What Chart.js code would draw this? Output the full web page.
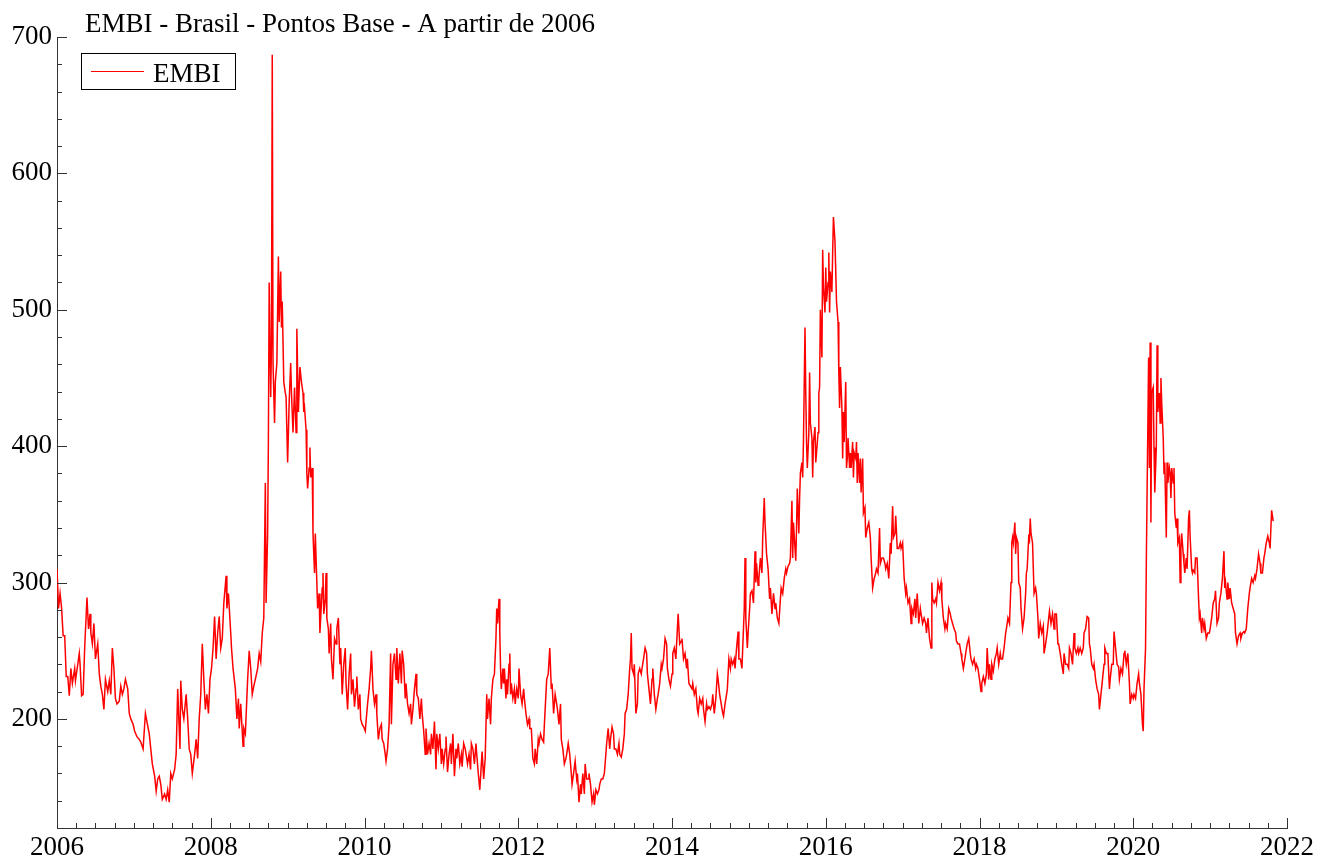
<!DOCTYPE html>
<html>
<head>
<meta charset="utf-8">
<script src="https://cdn.jsdelivr.net/npm/chart.js@4.4.0/dist/chart.umd.min.js"></script>
<style>
  html, body { margin: 0; padding: 0; background: #fff; }
  #wrap { width: 1320px; height: 861px; }
</style>
</head>
<body>
<div id="wrap"><canvas id="embiChart" width="1320" height="861"></canvas></div>
<script>
// --- Data ---
const chartTitle = 'EMBI - Brasil - Pontos Base - A partir de 2006';
const seriesLabel = 'EMBI';

const dates = [
  2006.00, 2006.02, 2006.04, 2006.06, 2006.08, 2006.10, 2006.12, 2006.14, 2006.16, 2006.18, 2006.20, 2006.23,
  2006.24, 2006.27, 2006.29, 2006.30, 2006.32, 2006.34, 2006.36, 2006.39, 2006.41, 2006.43, 2006.44, 2006.46,
  2006.48, 2006.50, 2006.53, 2006.55, 2006.57, 2006.59, 2006.61, 2006.63, 2006.66, 2006.68, 2006.70, 2006.72,
  2006.74, 2006.76, 2006.78, 2006.81, 2006.83, 2006.85, 2006.87, 2006.89, 2006.92, 2006.94, 2006.96, 2006.99,
  2007.01, 2007.04, 2007.07, 2007.09, 2007.12, 2007.15, 2007.17, 2007.20, 2007.22, 2007.24, 2007.27, 2007.29,
  2007.31, 2007.33, 2007.35, 2007.37, 2007.40, 2007.42, 2007.44, 2007.46, 2007.48, 2007.50, 2007.53, 2007.55,
  2007.57, 2007.58, 2007.60, 2007.61, 2007.63, 2007.65, 2007.68, 2007.70, 2007.72, 2007.74, 2007.76, 2007.79,
  2007.81, 2007.83, 2007.85, 2007.87, 2007.89, 2007.91, 2007.93, 2007.95, 2007.97, 2007.99,
  2008.01, 2008.03, 2008.05, 2008.07, 2008.09, 2008.11, 2008.13, 2008.15, 2008.17, 2008.20, 2008.21, 2008.23,
  2008.26, 2008.27, 2008.29, 2008.32, 2008.34, 2008.36, 2008.37, 2008.39, 2008.42, 2008.43, 2008.45, 2008.48,
  2008.50, 2008.52, 2008.54, 2008.56, 2008.58, 2008.61, 2008.63, 2008.65, 2008.67, 2008.69, 2008.71, 2008.72,
  2008.74, 2008.75, 2008.76, 2008.78, 2008.79, 2008.80, 2008.81, 2008.83, 2008.84, 2008.86, 2008.88, 2008.89,
  2008.91, 2008.92, 2008.93, 2008.95, 2008.97, 2008.98,
  2009.00, 2009.02, 2009.04, 2009.05, 2009.07, 2009.09, 2009.11, 2009.12, 2009.14, 2009.16, 2009.18, 2009.20,
  2009.21, 2009.22, 2009.24, 2009.25, 2009.26, 2009.28, 2009.29, 2009.30, 2009.32, 2009.33, 2009.35, 2009.36,
  2009.38, 2009.39, 2009.41, 2009.42, 2009.43, 2009.45, 2009.46, 2009.47, 2009.49, 2009.50, 2009.51, 2009.53,
  2009.54, 2009.56, 2009.57, 2009.59, 2009.61, 2009.63, 2009.64, 2009.66, 2009.68, 2009.69, 2009.71, 2009.73,
  2009.75, 2009.76, 2009.78, 2009.80, 2009.82, 2009.83, 2009.85, 2009.87, 2009.89, 2009.90, 2009.92, 2009.94,
  2009.95, 2009.97, 2009.99,
  2010.01, 2010.02, 2010.04, 2010.06, 2010.08, 2010.09, 2010.11, 2010.13, 2010.15, 2010.16, 2010.18, 2010.20,
  2010.22, 2010.23, 2010.25, 2010.27, 2010.28, 2010.30, 2010.32, 2010.34, 2010.35, 2010.37, 2010.39, 2010.41,
  2010.42, 2010.44, 2010.46, 2010.48, 2010.49, 2010.51, 2010.53, 2010.54, 2010.56, 2010.58, 2010.60, 2010.61,
  2010.63, 2010.65, 2010.67, 2010.68, 2010.70, 2010.72, 2010.74, 2010.75, 2010.77, 2010.79, 2010.80, 2010.82,
  2010.84, 2010.86, 2010.87, 2010.89, 2010.91, 2010.93, 2010.94, 2010.96, 2010.98,
  2011.00, 2011.01, 2011.03, 2011.05, 2011.06, 2011.08, 2011.10, 2011.12, 2011.13, 2011.15, 2011.17, 2011.19,
  2011.20, 2011.22, 2011.24, 2011.26, 2011.27, 2011.29, 2011.31, 2011.33, 2011.34, 2011.36, 2011.38, 2011.39,
  2011.41, 2011.43, 2011.45, 2011.46, 2011.48, 2011.50, 2011.52, 2011.53, 2011.55, 2011.57, 2011.59, 2011.60,
  2011.62, 2011.64, 2011.65, 2011.67, 2011.69, 2011.71, 2011.72, 2011.73, 2011.75, 2011.76, 2011.77, 2011.78,
  2011.80, 2011.81, 2011.82, 2011.84, 2011.85, 2011.86, 2011.88, 2011.89, 2011.90, 2011.91, 2011.93, 2011.95,
  2011.96, 2011.98,
  2012.00, 2012.01, 2012.03, 2012.05, 2012.07, 2012.08, 2012.10, 2012.12, 2012.14, 2012.15, 2012.17, 2012.19,
  2012.21, 2012.22, 2012.24, 2012.26, 2012.27, 2012.29, 2012.31, 2012.33, 2012.34, 2012.37, 2012.39, 2012.41,
  2012.43, 2012.44, 2012.46, 2012.48, 2012.50, 2012.51, 2012.53, 2012.55, 2012.56, 2012.58, 2012.60, 2012.62,
  2012.63, 2012.65, 2012.67, 2012.69, 2012.70, 2012.72, 2012.74, 2012.76, 2012.77, 2012.79, 2012.81, 2012.82,
  2012.84, 2012.86, 2012.87, 2012.89, 2012.91, 2012.92, 2012.94, 2012.96, 2012.98, 2012.99,
  2013.01, 2013.03, 2013.05, 2013.06, 2013.08, 2013.10, 2013.12, 2013.13, 2013.15, 2013.17, 2013.19, 2013.20,
  2013.22, 2013.24, 2013.25, 2013.27, 2013.29, 2013.31, 2013.32, 2013.34, 2013.36, 2013.38, 2013.39, 2013.41,
  2013.43, 2013.45, 2013.46, 2013.47, 2013.48, 2013.50, 2013.51, 2013.53, 2013.55, 2013.56, 2013.58, 2013.60,
  2013.61, 2013.63, 2013.65, 2013.67, 2013.68, 2013.70, 2013.72, 2013.74, 2013.75, 2013.77, 2013.79, 2013.81,
  2013.82, 2013.84, 2013.86, 2013.87, 2013.89, 2013.91, 2013.93, 2013.94, 2013.96, 2013.98,
  2014.00, 2014.01, 2014.03, 2014.05, 2014.07, 2014.08, 2014.10, 2014.12, 2014.13, 2014.15, 2014.17, 2014.19,
  2014.20, 2014.22, 2014.24, 2014.26, 2014.27, 2014.29, 2014.31, 2014.33, 2014.34, 2014.36, 2014.38, 2014.40,
  2014.41, 2014.43, 2014.45, 2014.46, 2014.48, 2014.50, 2014.52, 2014.53, 2014.55, 2014.57, 2014.59, 2014.60,
  2014.62, 2014.64, 2014.66, 2014.67, 2014.69, 2014.71, 2014.72, 2014.74, 2014.76, 2014.77, 2014.79, 2014.81,
  2014.82, 2014.84, 2014.86, 2014.87, 2014.89, 2014.91, 2014.92, 2014.94, 2014.95, 2014.96, 2014.98, 2014.99,
  2015.01, 2015.02, 2015.04, 2015.06, 2015.08, 2015.09, 2015.10, 2015.12, 2015.13, 2015.15, 2015.17, 2015.18,
  2015.20, 2015.21, 2015.23, 2015.25, 2015.27, 2015.28, 2015.30, 2015.32, 2015.34, 2015.35, 2015.37, 2015.39,
  2015.41, 2015.42, 2015.44, 2015.46, 2015.48, 2015.49, 2015.51, 2015.53, 2015.54, 2015.56, 2015.57, 2015.58,
  2015.60, 2015.61, 2015.62, 2015.63, 2015.65, 2015.66, 2015.67, 2015.69, 2015.70, 2015.71, 2015.73, 2015.74,
  2015.75, 2015.76, 2015.78, 2015.79, 2015.80, 2015.82, 2015.83, 2015.84, 2015.86, 2015.87, 2015.88, 2015.90,
  2015.91, 2015.92, 2015.93, 2015.95, 2015.96, 2015.97, 2015.99,
  2016.00, 2016.01, 2016.03, 2016.04, 2016.05, 2016.06, 2016.08, 2016.09, 2016.10, 2016.12, 2016.13, 2016.14,
  2016.16, 2016.17, 2016.18, 2016.19, 2016.21, 2016.22, 2016.23, 2016.24, 2016.26, 2016.27, 2016.28, 2016.29,
  2016.31, 2016.32, 2016.33, 2016.35, 2016.36, 2016.37, 2016.39, 2016.40, 2016.41, 2016.42, 2016.44, 2016.45,
  2016.46, 2016.48, 2016.49, 2016.51, 2016.52, 2016.54, 2016.56, 2016.58, 2016.59, 2016.61, 2016.63, 2016.65,
  2016.66, 2016.68, 2016.70, 2016.71, 2016.73, 2016.75, 2016.77, 2016.78, 2016.80, 2016.82, 2016.84, 2016.85,
  2016.87, 2016.88, 2016.90, 2016.91, 2016.93, 2016.95, 2016.97, 2016.98,
  2017.00, 2017.02, 2017.04, 2017.05, 2017.07, 2017.09, 2017.11, 2017.12, 2017.14, 2017.16, 2017.17, 2017.19,
  2017.21, 2017.23, 2017.24, 2017.26, 2017.28, 2017.30, 2017.31, 2017.33, 2017.35, 2017.37, 2017.38, 2017.39,
  2017.41, 2017.43, 2017.44, 2017.46, 2017.48, 2017.50, 2017.51, 2017.53, 2017.55, 2017.56, 2017.58, 2017.60,
  2017.62, 2017.63, 2017.65, 2017.67, 2017.69, 2017.70, 2017.72, 2017.74, 2017.76, 2017.77, 2017.79, 2017.81,
  2017.82, 2017.84, 2017.86, 2017.88, 2017.89, 2017.91, 2017.93, 2017.95, 2017.96, 2017.98,
  2018.00, 2018.02, 2018.03, 2018.05, 2018.07, 2018.09, 2018.10, 2018.12, 2018.13, 2018.15, 2018.16, 2018.18,
  2018.20, 2018.22, 2018.23, 2018.25, 2018.27, 2018.28, 2018.30, 2018.32, 2018.34, 2018.35, 2018.37, 2018.39,
  2018.41, 2018.42, 2018.43, 2018.44, 2018.46, 2018.47, 2018.48, 2018.50, 2018.51, 2018.53, 2018.54, 2018.56,
  2018.58, 2018.60, 2018.61, 2018.62, 2018.64, 2018.65, 2018.66, 2018.67, 2018.69, 2018.70, 2018.71, 2018.73,
  2018.74, 2018.76, 2018.77, 2018.79, 2018.81, 2018.83, 2018.84, 2018.86, 2018.88, 2018.90, 2018.91, 2018.93,
  2018.95, 2018.97, 2018.98,
  2019.00, 2019.02, 2019.03, 2019.05, 2019.07, 2019.09, 2019.10, 2019.12, 2019.14, 2019.16, 2019.17, 2019.19,
  2019.21, 2019.23, 2019.24, 2019.26, 2019.28, 2019.29, 2019.31, 2019.33, 2019.35, 2019.36, 2019.38, 2019.40,
  2019.42, 2019.43, 2019.44, 2019.46, 2019.48, 2019.49, 2019.51, 2019.53, 2019.55, 2019.56, 2019.58, 2019.60,
  2019.62, 2019.63, 2019.65, 2019.67, 2019.69, 2019.70, 2019.72, 2019.74, 2019.75, 2019.77, 2019.79, 2019.81,
  2019.82, 2019.84, 2019.86, 2019.88, 2019.89, 2019.91, 2019.93, 2019.95, 2019.96, 2019.98,
  2020.00, 2020.01, 2020.03, 2020.05, 2020.07, 2020.08, 2020.10, 2020.12, 2020.13, 2020.14, 2020.16, 2020.17,
  2020.18, 2020.20, 2020.21, 2020.22, 2020.23, 2020.24, 2020.26, 2020.27, 2020.28, 2020.30, 2020.31, 2020.32,
  2020.34, 2020.35, 2020.36, 2020.37, 2020.39, 2020.40, 2020.41, 2020.43, 2020.44, 2020.45, 2020.47, 2020.48,
  2020.49, 2020.50, 2020.52, 2020.53, 2020.54, 2020.56, 2020.57, 2020.58, 2020.60, 2020.61, 2020.62, 2020.63,
  2020.65, 2020.66, 2020.67, 2020.69, 2020.70, 2020.72, 2020.73, 2020.74, 2020.76, 2020.77, 2020.78, 2020.80,
  2020.81, 2020.83, 2020.85, 2020.86, 2020.87, 2020.89, 2020.90, 2020.92, 2020.93, 2020.95, 2020.97, 2020.99,
  2021.00, 2021.02, 2021.04, 2021.06, 2021.07, 2021.09, 2021.11, 2021.12, 2021.14, 2021.16, 2021.18, 2021.19,
  2021.20, 2021.22, 2021.23, 2021.25, 2021.26, 2021.28, 2021.30, 2021.32, 2021.33, 2021.35, 2021.37, 2021.39,
  2021.40, 2021.42, 2021.44, 2021.45, 2021.47, 2021.49, 2021.51, 2021.52, 2021.54, 2021.56, 2021.58, 2021.59,
  2021.61, 2021.63, 2021.65, 2021.66, 2021.68, 2021.70, 2021.71, 2021.73, 2021.75, 2021.77, 2021.78, 2021.80, 2021.82
];

const embi = [
  310, 281, 292, 281, 261, 261, 231, 231, 217, 237, 226, 237,
  228, 240, 248, 240, 217, 218, 252, 289, 266, 277, 263, 255,
  270, 244, 255, 233, 224, 218, 207, 229, 220, 228, 218, 252,
  237, 215, 211, 213, 224, 218, 222, 229, 222, 204, 200, 196,
  191, 187, 185, 183, 178, 204, 198, 189, 178, 167, 158, 147,
  156, 158, 152, 141, 145, 141, 148, 139, 160, 156, 163, 174,
  222, 207, 178, 228, 207, 200, 218, 200, 178, 174, 160, 174,
  185, 171, 200, 218, 255, 229, 207, 218, 204, 229,
  237, 252, 275, 244, 263, 275, 252, 259, 285, 305, 281, 292,
  263, 252, 237, 222, 200, 215, 193, 211, 180, 193, 189, 229,
  250, 237, 218, 224, 229, 237, 248, 242, 263, 274, 373, 285,
  336, 406, 520, 436, 476, 687, 461, 417, 447, 461, 539, 491,
  528, 487, 506, 447, 439, 436,
  388, 432, 461, 439, 410, 443, 410, 486, 425, 458, 447, 439,
  425, 428, 412, 380, 369, 384, 399, 377, 384, 336, 307, 336,
  300, 281, 292, 263, 274, 296, 307, 277, 288, 307, 274, 266,
  248, 270, 244, 229, 259, 255, 266, 274, 240, 252, 218, 240,
  252, 226, 207, 233, 248, 218, 229, 209, 222, 231, 207, 218,
  200, 196, 194,
  191, 198, 211, 222, 237, 250, 222, 211, 218, 204, 185, 193,
  196, 185, 182, 174, 169, 178, 196, 248, 196, 240, 248, 229,
  252, 226, 248, 226, 250, 240, 215, 226, 211, 204, 211, 196,
  207, 222, 233, 218, 215, 200, 215, 204, 191, 174, 193, 174,
  182, 174, 189, 178, 198, 163, 189, 178, 189,
  167, 178, 167, 178, 187, 161, 174, 182, 167, 189, 158, 178,
  171, 182, 167, 174, 165, 182, 178, 171, 167, 174, 163, 182,
  178, 167, 182, 174, 160, 148, 167, 176, 156, 171, 218, 200,
  215, 196, 215, 229, 233, 259, 281, 270, 288, 263, 237, 222,
  237, 226, 237, 215, 229, 218, 240, 248, 218, 226, 215, 222,
  211, 222,
  215, 237, 218, 211, 222, 215, 204, 196, 200, 193, 193, 171,
  167, 178, 167, 185, 182, 189, 185, 183, 196, 229, 233, 252,
  222, 226, 204, 218, 211, 207, 196, 211, 185, 178, 167, 171,
  174, 182, 174, 160, 152, 160, 169, 156, 160, 139, 152, 145,
  160, 145, 167, 156, 156, 160, 152, 139, 145, 137,
  148, 145, 148, 152, 156, 156, 160, 167, 182, 193, 178, 185,
  194, 189, 178, 178, 174, 182, 174, 172, 178, 189, 204, 207,
  218, 237, 244, 263, 237, 233, 240, 204, 211, 233, 237, 233,
  237, 244, 252, 248, 233, 222, 211, 229, 237, 218, 207, 215,
  218, 226, 240, 237, 244, 259, 255, 237, 229, 224,
  233, 248, 252, 244, 266, 277, 255, 257, 259, 244, 248, 237,
  244, 226, 224, 222, 226, 218, 222, 207, 204, 215, 211, 215,
  207, 198, 211, 207, 209, 207, 211, 218, 204, 215, 233, 229,
  218, 211, 204, 202, 211, 218, 222, 244, 237, 244, 240, 244,
  237, 252, 264, 244, 244, 237, 252, 281, 318, 274, 252, 263,
  281, 292, 294, 285, 323, 300, 314, 298, 303, 318, 307, 333,
  362, 344, 321, 310, 288, 296, 277, 292, 281, 285, 274, 270,
  288, 296, 292, 303, 310, 307, 312, 314, 318, 360, 318, 344,
  325, 316, 340, 369, 336, 362, 380, 388, 377, 403, 487, 439,
  403, 384, 410, 454, 417, 406, 377, 403, 414, 388, 395, 410,
  439, 443, 500, 465, 544, 517, 498,
  531, 506, 520, 542, 498, 528, 513, 542, 568, 550, 528, 506,
  491, 454, 428, 458, 428, 391, 425, 403, 447, 384, 391, 406,
  384, 395, 384, 403, 377, 395, 391, 403, 373, 395, 373, 391,
  366, 391, 351, 355, 333, 340, 344, 333, 318, 296, 303, 307,
  310, 307, 340, 314, 318, 318, 314, 310, 314, 303, 329, 321,
  356, 333, 336, 349, 325, 325, 329, 325,
  329, 303, 292, 296, 285, 288, 270, 281, 277, 288, 274, 292,
  270, 281, 277, 270, 274, 270, 263, 274, 259, 252, 300, 288,
  285, 288, 285, 300, 294, 300, 288, 274, 266, 270, 266, 281,
  277, 274, 270, 266, 263, 257, 255, 255, 248, 244, 237, 244,
  248, 255, 259, 248, 244, 240, 244, 237, 240, 237,
  229, 220, 226, 231, 226, 233, 252, 229, 240, 229, 240, 235,
  244, 248, 252, 240, 248, 244, 244, 252, 263, 266, 274, 270,
  300, 329, 333, 329, 344, 321, 333, 329, 300, 296, 281, 266,
  274, 292, 307, 310, 333, 331, 347, 336, 329, 310, 292, 296,
  292, 274, 259, 270, 263, 268, 248, 255, 263, 274, 279, 270,
  277, 266, 277,
  277, 255, 255, 248, 240, 233, 248, 240, 240, 237, 252, 248,
  240, 263, 252, 248, 252, 248, 252, 248, 252, 263, 266, 275,
  274, 255, 252, 240, 237, 240, 229, 222, 218, 207, 218, 229,
  240, 252, 248, 248, 222, 229, 240, 240, 264, 252, 240, 238,
  229, 237, 233, 248, 250, 240, 248, 226, 211, 218,
  215, 218, 215, 226, 233, 226, 218, 196, 191, 222, 252, 314,
  366, 465, 384, 476, 344, 439, 443, 399, 366, 399, 474, 425,
  439, 417, 450, 432, 406, 380, 388, 333, 388, 373, 384, 380,
  362, 384, 373, 384, 351, 340, 347, 329, 333, 300, 325, 336,
  321, 314, 307, 318, 310, 347, 353, 333, 310, 307, 309, 307,
  318, 318, 288, 274, 277, 263, 274, 266, 270, 259, 263, 263,
  266, 274, 285, 288, 294, 270, 274, 285, 292, 303, 323, 296,
  300, 288, 300, 288, 296, 285, 281, 277, 263, 255, 261, 263,
  259, 263, 264, 263, 266, 281, 292, 296, 303, 300, 305, 303,
  310, 321, 314, 307, 307, 318, 321, 329, 334, 329, 325, 353, 345
];

// axis ticks and ranges
const xTickYears = [2006, 2008, 2010, 2012, 2014, 2016, 2018, 2020, 2022];
const yTickValues = [200, 300, 400, 500, 600, 700];
const xMinorStep = 0.25;
const yMinorStep = 20;
const xRange = [2006, 2022];
const yRange = [120, 700];

const FONT = "'Liberation Serif', 'Times New Roman', serif";
const FONT_SIZE = 27;
const LINE_RED = '#ff0000';
const AXIS_COLOR = '#333333';

// --- Inward tick marks, title and legend ---
const decorPlugin = {
    id: 'decor',
    afterDraw(chart) {
        const { ctx, chartArea: area, scales: { x, y } } = chart;
        ctx.save();

        // tick marks pointing into the plot
        ctx.strokeStyle = AXIS_COLOR;
        ctx.lineWidth = 1;
        ctx.beginPath();
        for (let v = yRange[0]; v <= yRange[1] + 0.001; v += yMinorStep) {
            const py = Math.round(y.getPixelForValue(v)) + 0.5;
            const len = yTickValues.includes(v) ? 10 : 5;
            ctx.moveTo(area.left, py);
            ctx.lineTo(area.left + len, py);
        }
        for (let v = xRange[0]; v <= xRange[1] + 0.001; v += xMinorStep) {
            const px = Math.round(x.getPixelForValue(v)) + 0.5;
            const len = xTickYears.includes(v) ? 10 : 5;
            ctx.moveTo(px, area.bottom);
            ctx.lineTo(px, area.bottom - len);
        }
        ctx.stroke();

        // title
        ctx.fillStyle = '#000';
        ctx.font = `${FONT_SIZE}px ${FONT}`;
        ctx.textAlign = 'left';
        ctx.textBaseline = 'alphabetic';
        ctx.fillText(chartTitle, 85, 32);

        // legend box
        const ds = chart.data.datasets[0];
        ctx.fillStyle = '#fff';
        ctx.fillRect(81.5, 53.5, 154, 36);
        ctx.strokeStyle = '#000';
        ctx.lineWidth = 1;
        ctx.strokeRect(81.5, 53.5, 154, 36);
        ctx.strokeStyle = ds.borderColor;
        ctx.beginPath();
        ctx.moveTo(91, 71.5);
        ctx.lineTo(144, 71.5);
        ctx.stroke();
        ctx.fillStyle = '#000';
        ctx.fillText(ds.label, 153, 82);

        ctx.restore();
    }
};

// --- Chart ---
const ctx = document.getElementById('embiChart').getContext('2d');
new Chart(ctx, {
    type: 'line',
    data: {
        datasets: [{
            label: seriesLabel,
            data: dates.map((d, i) => ({ x: d, y: embi[i] })),
            borderColor: LINE_RED,
            borderWidth: 1.5,
            pointRadius: 0,
            tension: 0,
            fill: false
        }]
    },
    options: {
        responsive: false,
        animation: false,
        devicePixelRatio: 1,
        parsing: false,
        normalized: true,
        layout: { padding: { top: 37, right: 33, bottom: 0, left: 0 } },
        plugins: {
            legend: { display: false },
            title: { display: false },
            tooltip: { enabled: false }
        },
        scales: {
            x: {
                type: 'linear',
                min: xRange[0],
                max: xRange[1],
                afterFit: s => { s.height = 33; },
                afterBuildTicks: s => { s.ticks = xTickYears.map(v => ({ value: v })); },
                grid: { display: false, drawTicks: false },
                border: { display: true, color: AXIS_COLOR, width: 1 },
                ticks: {
                    autoSkip: false,
                    maxRotation: 0,
                    padding: 4,
                    color: '#000',
                    font: { family: FONT, size: FONT_SIZE },
                    callback: v => String(v)
                }
            },
            y: {
                type: 'linear',
                min: yRange[0],
                max: yRange[1],
                afterFit: s => { s.width = 57; },
                afterBuildTicks: s => { s.ticks = yTickValues.map(v => ({ value: v })); },
                grid: { display: false, drawTicks: false },
                border: { display: true, color: AXIS_COLOR, width: 1 },
                ticks: {
                    padding: 5,
                    color: '#000',
                    font: { family: FONT, size: FONT_SIZE },
                    callback: v => String(v)
                }
            }
        }
    },
    plugins: [decorPlugin]
});
</script>
</body>
</html>
